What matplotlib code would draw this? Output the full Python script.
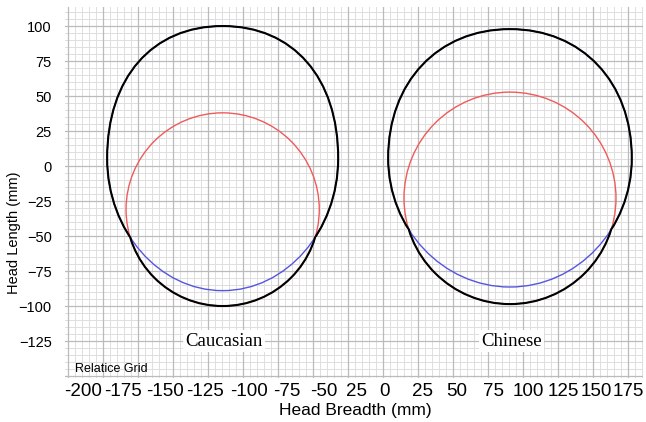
import numpy as np
import matplotlib.pyplot as plt
from matplotlib.patches import Circle, Rectangle, PathPatch
from matplotlib.path import Path

# tick labels as printed under the chart and where they sit on the mm grid
x_labels = ["-200", "-175", "-150", "-125", "-100", "-75", "-50", "25", "0",
            "25", "50", "75", "100", "125", "150", "175"]
x_label_pos = [-214, -186, -156, -127, -96, -69, -42, -19, 1,
               28, 53, 79, 104, 129, 152, 175]
y_ticks = [-125, -100, -75, -50, -25, 0, 25, 50, 75, 100]

groups = ["Caucasian", "Chinese"]
center_x = [-114.5, 90.7]
# blue outline: widest level, half width, reach above / below that level
blue_cy = [5.5, 5.7]
blue_a = [82.5, 87.0]
blue_top = [94.5, 92.1]
blue_bot = [94.5, 92.1]
# how "square" the upper and lower quarters are (0.55 = plain ellipse)
blue_k_top = [0.61, 0.59]
blue_k_bot = [0.55, 0.55]
# red outline: circle (centre y, radius)
circ_cy = [-31.0, -22.9]
circ_r = [69.0, 75.7]
# height where the black outline leaves the blue one for the red one
switch_y = [-51, -45]

RED = "#f05a5a"
BLUE = "#5555e0"
SANS = "Liberation Sans"


def outline(cx, cy, a, up, down, kt, kb):
    verts = [(cx + a, cy),
             (cx + a, cy + kt * up), (cx + kt * a, cy + up), (cx, cy + up),
             (cx - kt * a, cy + up), (cx - a, cy + kt * up), (cx - a, cy),
             (cx - a, cy - kb * down), (cx - kb * a, cy - down), (cx, cy - down),
             (cx + kb * a, cy - down), (cx + a, cy - kb * down), (cx + a, cy)]
    codes = [Path.MOVETO] + [Path.CURVE4] * 12
    return Path(verts, codes)


fig = plt.figure(figsize=(6.46, 4.22), dpi=100)
ax = fig.add_axes([65 / 646, 1 - 378 / 422, 578 / 646, 371 / 422])
ax.set_xlim(-227.1, 185.7)
ax.set_ylim(-151.4, 113.6)

# graph paper: minor every 5 mm, major every 25 mm
for x in np.arange(-225, 186, 5):
    major = x % 25 == 0
    ax.axvline(x, color="#bbbbbb" if major else "#dedede",
               lw=0.9 if major else 0.7, zorder=0.5 if major else 0)
for y in np.arange(-150, 114, 5):
    major = y % 25 == 0
    ax.axhline(y, color="#bbbbbb" if major else "#dedede",
               lw=0.9 if major else 0.7, zorder=0.5 if major else 0)

for i, name in enumerate(groups):
    cx = center_x[i]
    shape = outline(cx, blue_cy[i], blue_a[i], blue_top[i], blue_bot[i],
                    blue_k_top[i], blue_k_bot[i])
    ax.add_patch(Circle((cx, circ_cy[i]), circ_r[i], fill=False,
                        ec=RED, lw=1.0, zorder=2))
    ax.add_patch(PathPatch(shape, fill=False, ec=BLUE, lw=1.0, zorder=2))

    # black outline = upper part of the blue shape + lower part of the circle
    top = PathPatch(shape, fill=False, ec="black", lw=1.5, zorder=3)
    ax.add_patch(top)
    top.set_clip_path(Rectangle((cx - 150, switch_y[i]), 300, 300,
                                transform=ax.transData))
    bot = Circle((cx, circ_cy[i]), circ_r[i], fill=False,
                 ec="black", lw=1.5, zorder=3)
    ax.add_patch(bot)
    bot.set_clip_path(Rectangle((cx - 150, switch_y[i] - 300), 300, 300,
                                transform=ax.transData))

    ax.text(cx + 1, -125, name, ha="center", va="center",
            family="Liberation Serif", fontsize=13.5, zorder=4,
            bbox=dict(facecolor="white", edgecolor="none", pad=1.5))

ax.text(-220, -145, "Relatice Grid", ha="left", va="center",
        fontsize=9, family=SANS, zorder=4)

ax.set_xticks(x_label_pos, labels=x_labels)
ax.set_yticks(y_ticks)
ax.tick_params(axis="both", length=0)
ax.tick_params(axis="x", pad=3.5, labelsize=13.5)
ax.tick_params(axis="y", pad=9.5, labelsize=10.5)
for lab in ax.get_xticklabels() + ax.get_yticklabels():
    lab.set_family(SANS)
ax.spines[["top", "left", "bottom", "right"]].set_visible(False)

fig.text(355 / 646, 1 - 411 / 422, "Head Breadth (mm)", ha="center",
         va="center", fontsize=12.5, family=SANS)
fig.text(14 / 646, 1 - 233 / 422, "Head Length (mm)", ha="center",
         va="center", rotation=90, fontsize=10.5, family=SANS)

fig.patch.set_facecolor("white")
plt.savefig("out.png", dpi=100)
